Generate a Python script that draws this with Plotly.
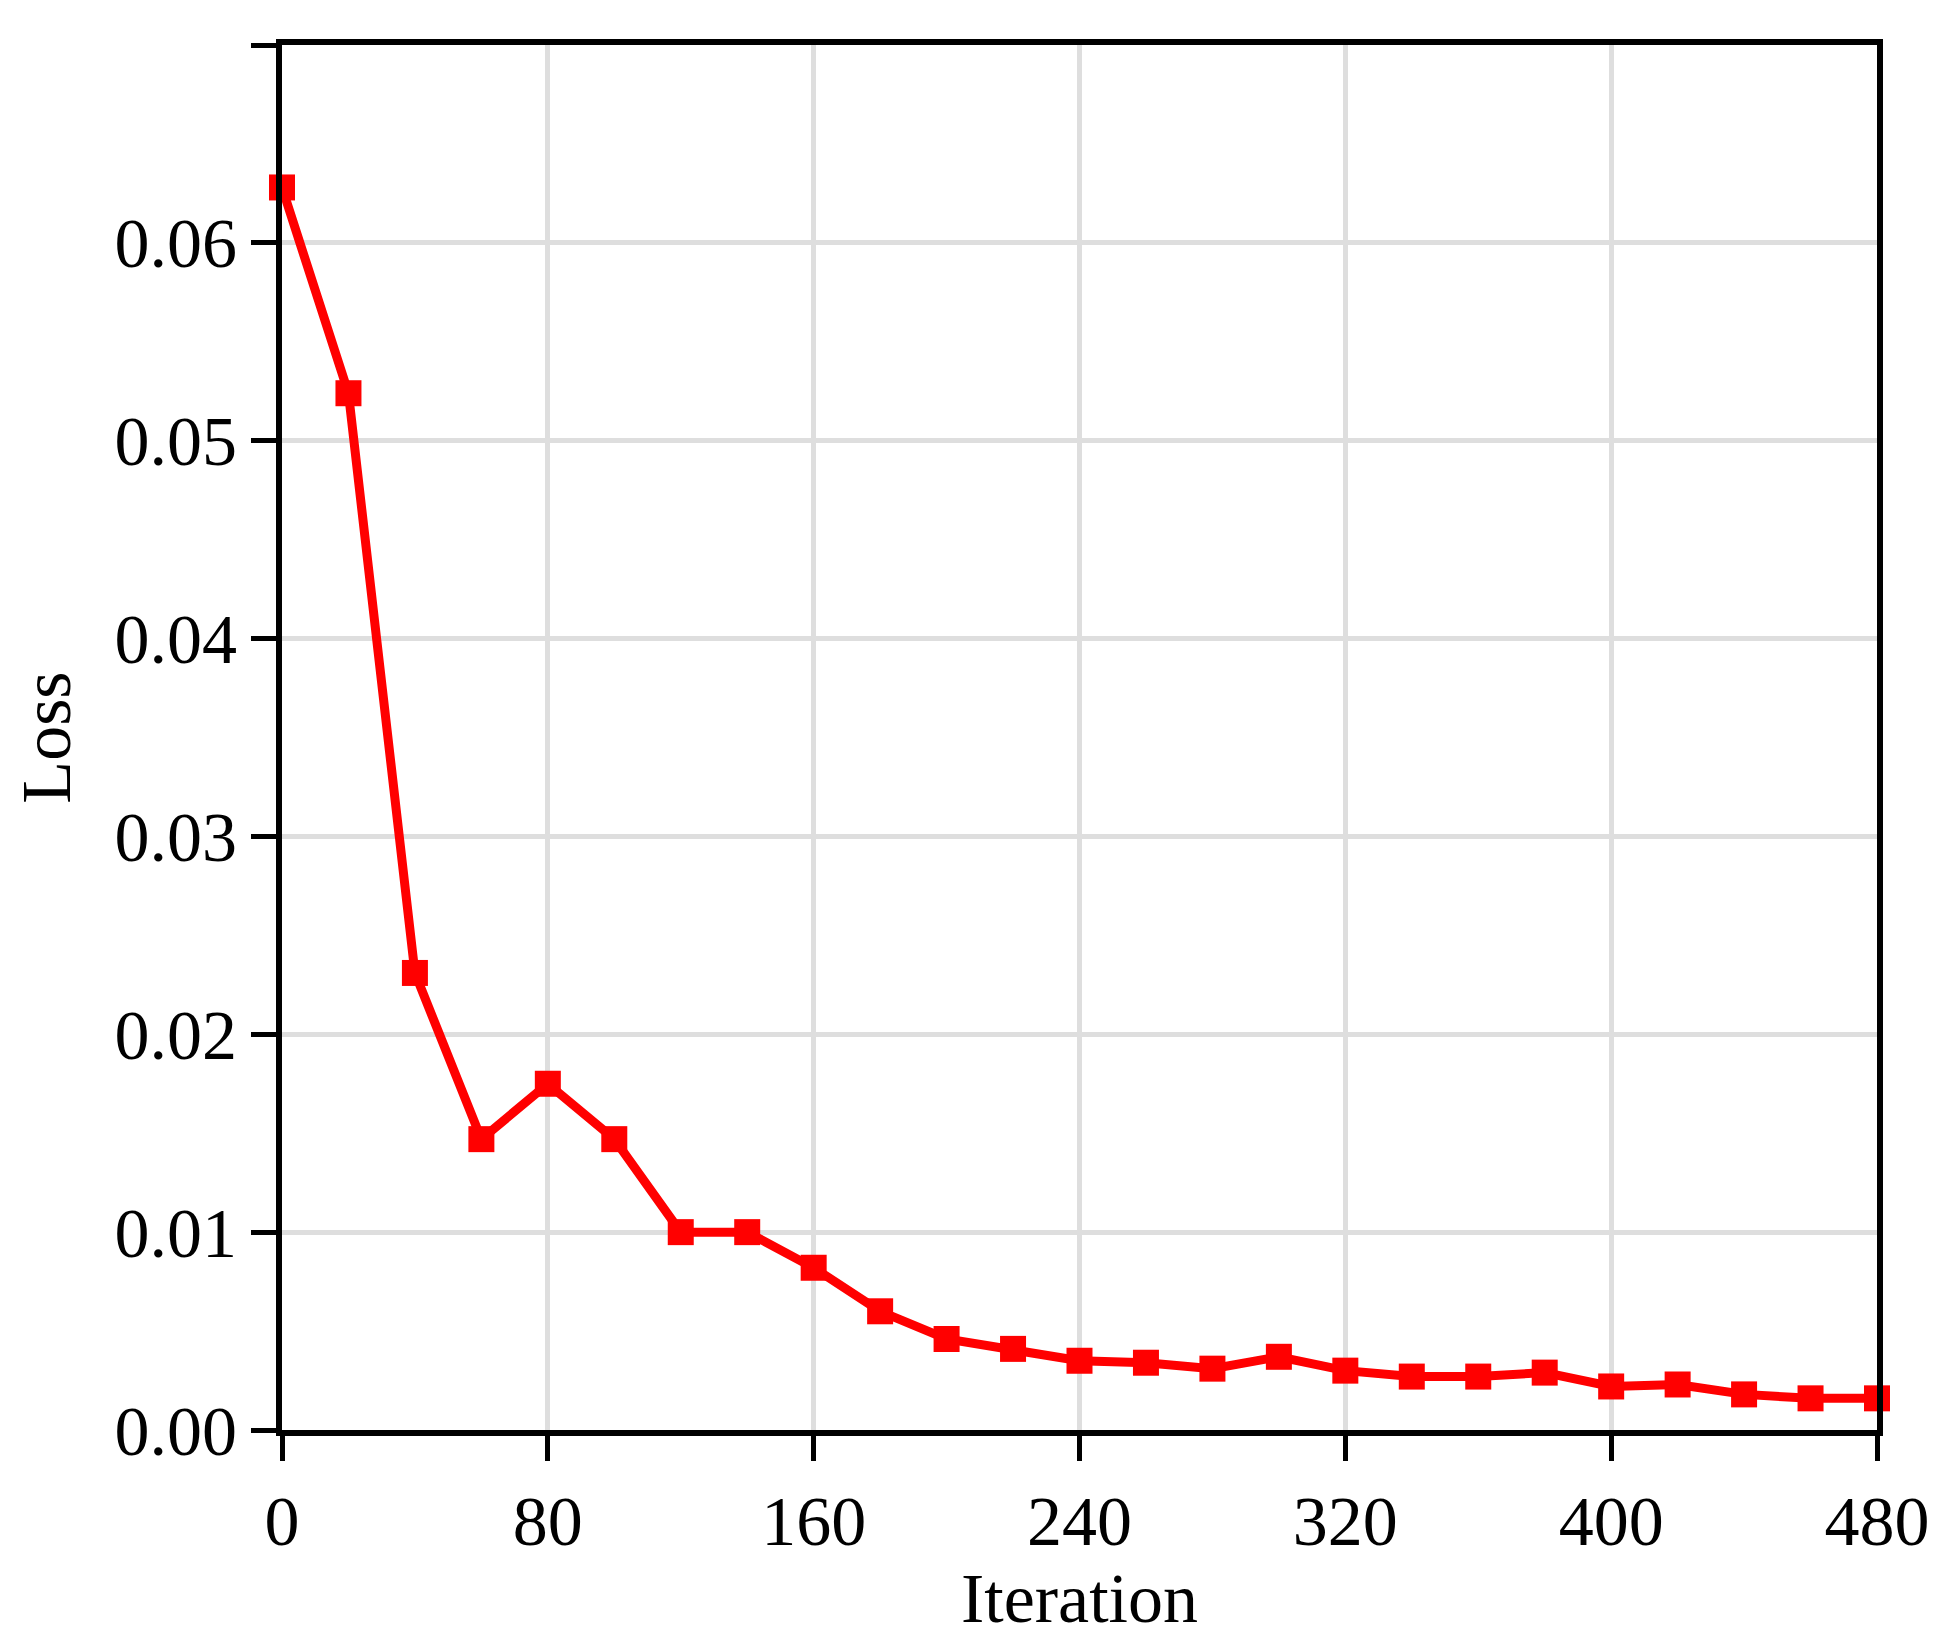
import plotly.graph_objects as go

iterations = list(range(0, 481, 20))
loss = [0.0628, 0.0524, 0.0231, 0.0147, 0.0175, 0.0147, 0.0100, 0.0100, 0.0082, 0.0060,
        0.0046, 0.0041, 0.0035, 0.0034, 0.0031, 0.0037, 0.0030, 0.0027, 0.0027, 0.0029,
        0.0022, 0.0023, 0.0018, 0.0016, 0.0016]
xticks = [0, 80, 160, 240, 320, 400, 480]
yticks = [0.00, 0.01, 0.02, 0.03, 0.04, 0.05, 0.06, 0.07]

fig = go.Figure(go.Scatter(
    x=iterations, y=loss, mode="lines+markers",
    line=dict(color="#ff0000", width=9),
    marker=dict(symbol="square", size=26, color="#ff0000"),
    cliponaxis=False,
))
axis_common = dict(
    showline=True, linewidth=6, linecolor="black", mirror=True,
    ticks="outside", ticklen=25, tickwidth=5, tickcolor="black",
    showgrid=True, gridcolor="#dedede", gridwidth=5, zeroline=False,
    tickfont=dict(size=70, color="black", family="Liberation Serif"),
)
fig.update_xaxes(range=[0, 480], tickvals=xticks, ticktext=[str(v) for v in xticks],
                 title=dict(text="Iteration", font=dict(size=70, family="Liberation Serif", color="black"), standoff=15),
                 **axis_common)
fig.update_yaxes(range=[0, 0.07], tickvals=yticks, ticktext=[f"{v:.2f}" for v in yticks],
                 title=dict(text="Loss", font=dict(size=70, family="Liberation Serif", color="black"), standoff=30),
                 **axis_common)
fig.update_layout(
    width=1941, height=1641, paper_bgcolor="white", plot_bgcolor="white",
    margin=dict(l=274, r=72, t=37, b=219), showlegend=False,
)
fig.write_html("out.html")
